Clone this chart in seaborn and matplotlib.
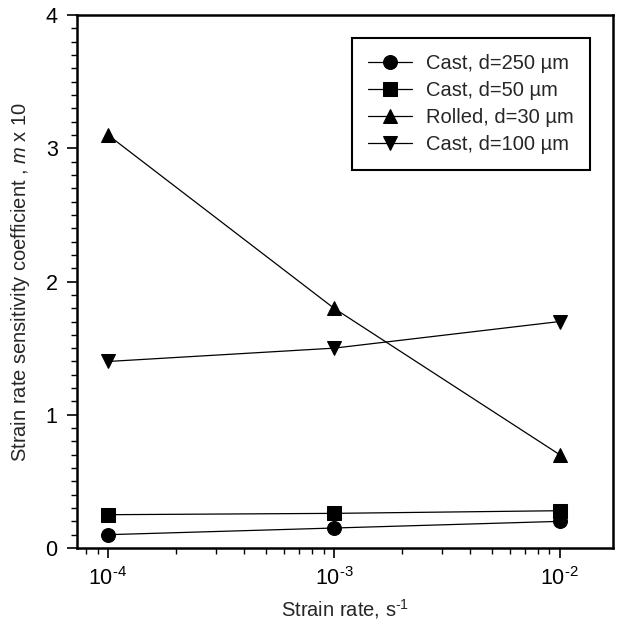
import math
import matplotlib
matplotlib.use("Agg")
import matplotlib.pyplot as plt
import matplotlib.ticker as mticker
import seaborn as sns
import pandas as pd

strain_rate = [1e-4, 1e-3, 1e-2]
series_names = ["Cast, d=250 \u00b5m", "Cast, d=50 \u00b5m", "Rolled, d=30 \u00b5m", "Cast, d=100 \u00b5m"]
cast_250 = [0.10, 0.15, 0.20]
cast_50 = [0.25, 0.26, 0.28]
rolled_30 = [3.1, 1.8, 0.7]
cast_100 = [1.4, 1.5, 1.7]
marker_list = ["o", "s", "^", "v"]

sns.set_theme(style="ticks")
plt.rcParams["font.family"] = ["Liberation Sans", "DejaVu Sans"]
plt.rcParams["mathtext.fontset"] = "custom"
plt.rcParams["mathtext.rm"] = "Liberation Sans"
plt.rcParams["mathtext.it"] = "Liberation Sans:italic"
plt.rcParams["mathtext.default"] = "regular"
plt.rcParams["axes.unicode_minus"] = False

rows = []
for name, vals in zip(series_names, [cast_250, cast_50, rolled_30, cast_100]):
    for x, y in zip(strain_rate, vals):
        rows.append({"rate": x, "m": y, "series": name})
df = pd.DataFrame(rows)

fig = plt.figure(figsize=(6.17, 6.39), dpi=100)
ax = fig.add_axes([0.125, 0.1424, 0.8685, 0.834])

sns.lineplot(data=df, x="rate", y="m", hue="series", style="series",
             hue_order=series_names, style_order=series_names,
             palette=["black"] * 4, markers=dict(zip(series_names, marker_list)),
             dashes=False, markersize=10, linewidth=0.9, markeredgecolor="black",
             ax=ax)

ax.set_xscale("log")
ax.set_xlim(7.3e-5, 1.72e-2)
ax.set_ylim(0, 4)
ax.set_xticks([1e-4, 1e-3, 1e-2])
ax.xaxis.set_major_formatter(mticker.FuncFormatter(
    lambda v, p: "$10^{\\text{-}%d}$" % abs(round(math.log10(v)))))
ax.xaxis.set_minor_locator(mticker.LogLocator(base=10, subs=range(2, 10), numticks=20))
ax.xaxis.set_minor_formatter(mticker.NullFormatter())
ax.yaxis.set_major_locator(mticker.MultipleLocator(1))
ax.yaxis.set_minor_locator(mticker.MultipleLocator(0.1))

for s in ax.spines.values():
    s.set_visible(True)
    s.set_linewidth(1.8)
    s.set_color("black")
ax.tick_params(which="major", direction="out", length=7, width=1.2, labelsize=15.5, colors="black", pad=7)
ax.tick_params(which="minor", direction="out", length=4, width=1.0, colors="black")
ax.tick_params(axis="x", which="major", pad=7)

ax.set_xlabel("Strain rate, s$^{\\text{-}1}$", fontsize=14.5, labelpad=5)
ax.set_ylabel("Strain rate sensitivity coefficient , $\\it{m}$ x 10", fontsize=14.5, labelpad=10)

handles, labels = ax.get_legend_handles_labels()
leg = ax.legend(handles, labels, loc="upper right", bbox_to_anchor=(0.957, 0.957),
                borderaxespad=0, fontsize=14.5, frameon=True, fancybox=False, framealpha=1,
                edgecolor="black", handlelength=2.2, handletextpad=0.7,
                borderpad=0.8, labelspacing=0.4)
leg.get_frame().set_linewidth(1.5)

fig.savefig("out.png", dpi=100)
